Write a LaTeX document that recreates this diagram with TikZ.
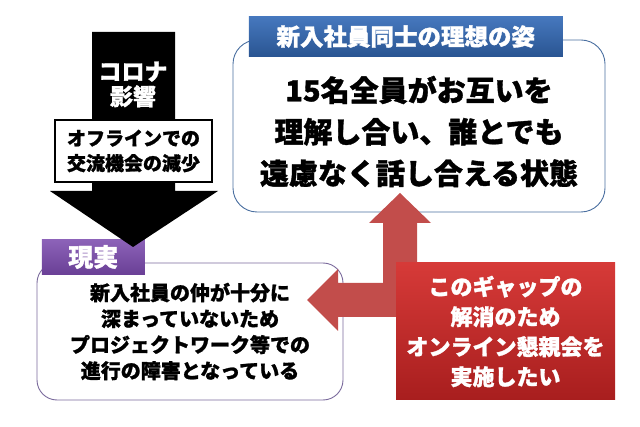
\documentclass[tikz,border=0pt]{standalone}
\usepackage{fontspec}
\setmainfont{Noto Sans CJK JP}[BoldFeatures={FakeBold=1.2}]
\usetikzlibrary{positioning}
\definecolor{tagblueT}{HTML}{4678BE}
\definecolor{tagblueB}{HTML}{2A5592}
\definecolor{tagpurpleT}{HTML}{8C62B8}
\definecolor{tagpurpleB}{HTML}{6A3F96}
\definecolor{gapredT}{HTML}{D63A38}
\definecolor{gapredB}{HTML}{A81E1E}
\definecolor{bendred}{HTML}{C24D4B}
\definecolor{idealline}{HTML}{4A6FA0}
\definecolor{realline}{HTML}{7A6A9C}

\begin{document}
\begin{tikzpicture}[
      x=1pt,y=-1pt,
      every node/.style={align=center, font=\bfseries},
      tag/.style={inner sep=0pt, text=white, font=\bfseries\fontsize{23.5}{26}\selectfont},
      panel/.style={rectangle, rounded corners=24pt, line width=0.9pt, fill=white},
      bigtext/.style={font=\bfseries\fontsize{29}{41.5}\selectfont},
      midtext/.style={font=\bfseries\fontsize{20}{26}\selectfont}
      ]
      \useasboundingbox (0,0) rectangle (640,427);
      \node[panel, draw=idealline, minimum width=372pt, minimum height=172pt] (ideal) at (419,126) {};
      \node[bigtext] (idealtext) at (419,131.5) {15名全員がお互いを\\理解し合い、誰とでも\\遠慮なく話し合える状態};
      \node[tag, anchor=west, xshift=16pt, yshift=3pt, minimum width=314pt, minimum height=40pt,
            top color=tagblueT, bottom color=tagblueB] (idealtag) at (ideal.north west) {新入社員同士の理想の姿};
      \node[panel, draw=realline, rounded corners=20pt, minimum width=306pt, minimum height=137pt, midtext] (real) at (190,331.5)
        {新入社員の仲が十分に\\深まっていないため\\プロジェクトワーク等での\\進行の障害となっている};
      \node[tag, anchor=west, xshift=5pt, yshift=5.5pt, minimum width=103pt, minimum height=35pt,
            font=\bfseries\fontsize{25}{26}\selectfont,
            top color=tagpurpleT, bottom color=tagpurpleB] (realtag) at (real.north west) {現実};
      \fill[black] (92,32) -- (175,32) -- (175,191) -- (218,191) -- (133,247) -- (50,191) -- (92,191) -- cycle;
      \node[text=white, font=\bfseries\fontsize{23}{25}\selectfont] (corona) at (133,84.5) {コロナ\\影響};
      \node[draw=black, line width=1.2pt, fill=white, minimum width=157pt, minimum height=62pt, inner sep=0pt,
            font=\bfseries\fontsize{19}{25}\selectfont] (offline) at (133.5,151) {オフラインでの\\交流機会の減少};
      \fill[bendred] (400,193) -- (431,223) -- (417,223) -- (417,317) -- (338,317) -- (338,331) -- (307,300)
        -- (338,269) -- (338,283) -- (383,283) -- (383,223) -- (369,223) -- cycle;
      \node[top color=gapredT, bottom color=gapredB, minimum width=219pt, minimum height=137pt, inner sep=0pt,
            text=white, font=\bfseries\fontsize{22}{30}\selectfont] (gap) at (505.5,331.5)
        {このギャップの\\解消のため\\オンライン懇親会を\\実施したい};
    \end{tikzpicture}
\end{document}
